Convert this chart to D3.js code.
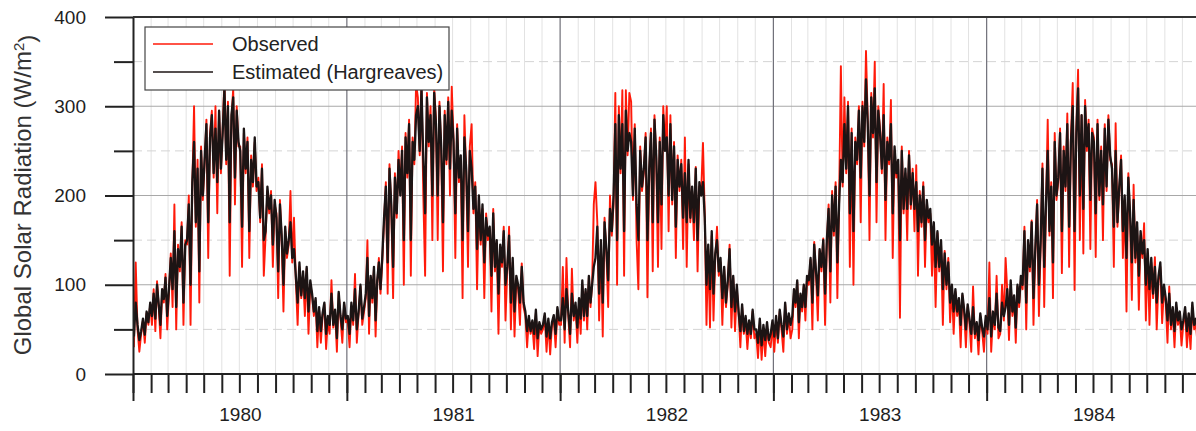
<!DOCTYPE html>
<html>
<head>
<meta charset="utf-8">
<script src="https://cdn.jsdelivr.net/npm/d3@7"></script>
<style>
  body { margin: 0; background: #fff; }
  svg { display: block; font-family: "Liberation Sans", Arial, Helvetica, sans-serif; }
</style>
</head>
<body>
<svg id="chart"></svg>
<script>
// axis values
const years = [1980, 1981, 1982, 1983, 1984];
const yTickLabels = [0, 100, 200, 300, 400];
const yMinorTicks = [50, 150, 250, 350];
const seriesNames = ['Observed', 'Estimated (Hargreaves)'];

// global solar radiation, W/m2, 10 readings per month (Jan..Dec)
const obs1980 = [
  30, 125, 50, 25, 45, 60, 35, 68, 55, 78,
  55, 95, 48, 104, 75, 40, 92, 80, 112, 50,
  90, 135, 75, 190, 50, 145, 115, 170, 55, 150,
  145, 200, 55, 210, 300, 165, 240, 80, 255, 195,
  235, 285, 130, 270, 295, 220, 300, 180, 295, 225,
  275, 330, 235, 305, 110, 285, 320, 190, 300, 255,
  255, 120, 270, 225, 265, 130, 245, 210, 260, 205,
  220, 170, 235, 110, 155, 205, 180, 205, 120, 190,
  180, 85, 195, 150, 70, 160, 130, 145, 205, 125,
  175, 105, 55, 120, 85, 110, 65, 118, 45, 100,
  88, 65, 82, 30, 72, 35, 65, 78, 28, 60,
  45, 105, 52, 70, 25, 90, 62, 35, 78, 58
];
const est1980 = [
  42, 80, 55, 38, 48, 62, 44, 70, 58, 80,
  65, 90, 62, 100, 78, 55, 95, 84, 108, 65,
  95, 130, 95, 160, 75, 140, 120, 165, 80, 145,
  150, 190, 100, 215, 260, 170, 230, 115, 250, 200,
  240, 280, 170, 265, 290, 225, 275, 215, 295, 230,
  270, 320, 240, 300, 170, 290, 310, 220, 295, 260,
  250, 165, 275, 230, 260, 160, 240, 215, 265, 210,
  215, 175, 230, 150, 160, 210, 185, 200, 145, 195,
  175, 115, 190, 155, 100, 165, 135, 150, 170, 130,
  140, 110, 80, 125, 88, 115, 85, 120, 70, 105,
  90, 70, 85, 48, 75, 48, 68, 80, 45, 65,
  55, 90, 55, 72, 40, 92, 65, 50, 80, 62
];
const obs1981 = [
  60, 30, 75, 55, 112, 35, 68, 98, 55, 70,
  85, 150, 45, 108, 80, 118, 42, 100, 130, 90,
  125, 170, 215, 90, 235, 185, 85, 225, 175, 250,
  205, 255, 100, 270, 220, 285, 110, 265, 235, 325,
  310, 245, 330, 200, 110, 315, 255, 300, 150, 320,
  285, 150, 305, 250, 115, 295, 235, 310, 200, 322,
  265, 130, 280, 215, 240, 85, 290, 225, 120, 255,
  280, 180, 215, 95, 195, 145, 185, 85, 180, 150,
  160, 70, 185, 115, 145, 45, 140, 120, 165, 60,
  115, 165, 50, 125, 42, 105, 95, 55, 124, 75,
  65, 30, 62, 45, 55, 28, 68, 20, 55, 45,
  50, 65, 25, 58, 22, 55, 62, 30, 70, 55
];
const est1981 = [
  65, 45, 80, 60, 95, 50, 70, 100, 62, 75,
  90, 130, 65, 110, 85, 120, 60, 105, 125, 95,
  130, 175, 210, 125, 230, 190, 120, 220, 180, 240,
  200, 250, 150, 265, 225, 280, 150, 260, 240, 290,
  300, 250, 320, 240, 180, 310, 260, 290, 200, 315,
  280, 200, 300, 255, 170, 290, 240, 305, 230, 295,
  260, 180, 275, 220, 245, 150, 265, 230, 160, 250,
  230, 185, 210, 140, 200, 150, 190, 125, 175, 155,
  165, 110, 180, 120, 150, 90, 145, 125, 160, 100,
  120, 155, 80, 130, 70, 110, 100, 80, 120, 80,
  70, 48, 65, 48, 60, 45, 72, 40, 58, 50,
  55, 68, 42, 62, 40, 58, 66, 45, 75, 60
];
const obs1982 = [
  55, 120, 35, 130, 65, 30, 118, 60, 75, 35,
  80, 45, 100, 60, 92, 50, 108, 75, 102, 190,
  215, 170, 60, 145, 42, 175, 135, 75, 200, 155,
  190, 315, 100, 300, 225, 318, 110, 318, 245, 315,
  305, 195, 280, 150, 95, 255, 205, 225, 270, 86,
  225, 275, 115, 290, 240, 120, 265, 140, 300, 255,
  300, 160, 290, 190, 260, 130, 245, 205, 240, 140,
  265, 120, 235, 170, 205, 150, 232, 115, 210, 205,
  259, 180, 55, 140, 52, 155, 60, 130, 165, 110,
  125, 55, 118, 75, 100, 145, 52, 108, 48, 95,
  68, 30, 75, 45, 60, 28, 55, 40, 70, 40,
  45, 18, 55, 16, 50, 20, 52, 35, 30, 55
];
const est1982 = [
  60, 85, 50, 95, 70, 45, 90, 65, 80, 52,
  85, 62, 105, 65, 95, 65, 110, 80, 100, 120,
  130, 165, 90, 150, 80, 170, 140, 105, 185, 160,
  200, 280, 150, 290, 230, 280, 160, 295, 250, 270,
  260, 200, 275, 190, 150, 250, 210, 230, 265, 150,
  230, 270, 170, 285, 245, 170, 260, 190, 290, 250,
  265, 200, 280, 195, 255, 165, 240, 210, 235, 175,
  225, 170, 240, 175, 210, 170, 230, 150, 215, 200,
  215, 175, 100, 145, 95, 160, 90, 135, 150, 115,
  130, 85, 120, 80, 105, 140, 75, 110, 70, 100,
  70, 48, 78, 48, 65, 45, 60, 45, 72, 50,
  50, 35, 62, 32, 55, 38, 58, 38, 45, 60
];
const obs1983 = [
  25, 60, 35, 70, 50, 25, 78, 45, 65, 40,
  50, 92, 75, 103, 40, 88, 70, 98, 60, 108,
  100, 128, 50, 148, 110, 60, 138, 115, 152, 55,
  145, 190, 80, 205, 155, 215, 85, 195, 345, 210,
  310, 225, 305, 120, 275, 100, 265, 235, 300, 170,
  305, 255, 362, 285, 150, 315, 265, 350, 170, 300,
  275, 225, 325, 150, 265, 235, 307, 130, 250, 220,
  235, 63, 255, 180, 225, 150, 250, 185, 230, 160,
  234, 110, 205, 165, 215, 120, 190, 170, 180, 110,
  165, 75, 158, 115, 145, 55, 138, 95, 130, 58,
  98, 45, 92, 65, 80, 30, 88, 68, 30, 75,
  58, 25, 98, 40, 55, 22, 65, 48, 25, 60
];
const est1983 = [
  42, 65, 40, 72, 55, 42, 80, 50, 68, 55,
  65, 95, 80, 105, 58, 90, 75, 100, 75, 110,
  105, 130, 80, 145, 115, 88, 140, 120, 150, 90,
  150, 185, 115, 200, 160, 210, 125, 190, 240, 215,
  280, 230, 300, 180, 270, 160, 260, 240, 295, 220,
  300, 260, 330, 280, 200, 310, 270, 320, 215, 295,
  270, 230, 290, 195, 260, 240, 280, 180, 255, 225,
  240, 150, 250, 185, 230, 185, 245, 190, 225, 185,
  215, 160, 200, 170, 210, 150, 195, 175, 185, 145,
  170, 120, 160, 120, 150, 95, 135, 100, 125, 80,
  100, 70, 95, 70, 85, 55, 90, 72, 50, 78,
  62, 45, 75, 45, 58, 38, 68, 52, 42, 65
];
const obs1984 = [
  45, 125, 25, 65, 50, 110, 40, 45, 100, 60,
  130, 92, 38, 100, 65, 85, 35, 98, 75, 105,
  95, 165, 50, 148, 115, 172, 55, 135, 195, 65,
  145, 236, 75, 185, 285, 155, 215, 85, 270, 195,
  215, 275, 113, 255, 205, 292, 120, 265, 326, 94,
  275, 341, 150, 290, 135, 307, 250, 285, 140, 275,
  265, 131, 285, 195, 255, 150, 280, 205, 290, 240,
  235, 120, 281, 165, 205, 245, 130, 195, 70, 225,
  175, 83, 212, 125, 165, 72, 155, 130, 169, 60,
  135, 55, 125, 85, 131, 50, 105, 120, 57, 95,
  80, 35, 98, 50, 70, 30, 75, 55, 65, 32,
  55, 70, 30, 60, 28, 75, 50, 55, 30, 65
];
const est1984 = [
  50, 85, 42, 70, 55, 90, 52, 48, 80, 65,
  75, 95, 55, 105, 70, 88, 52, 100, 80, 110,
  100, 160, 80, 150, 120, 170, 85, 140, 190, 100,
  150, 230, 120, 190, 250, 160, 210, 125, 260, 200,
  220, 270, 160, 250, 210, 280, 165, 260, 300, 160,
  270, 320, 200, 290, 185, 300, 255, 280, 195, 270,
  260, 180, 280, 200, 250, 190, 275, 210, 285, 245,
  230, 165, 250, 170, 210, 240, 160, 200, 130, 220,
  180, 125, 195, 130, 170, 110, 160, 135, 150, 100,
  140, 95, 130, 90, 120, 80, 110, 125, 80, 100,
  85, 60, 90, 55, 75, 48, 80, 60, 70, 50,
  60, 75, 48, 68, 45, 80, 55, 62, 48, 70
];

const observed = [obs1980, obs1981, obs1982, obs1983, obs1984];
const estimated = [est1980, est1981, est1982, est1983, est1984];

class RadiationChart {

  constructor(_config, _data) {
    this.config = {
      parentElement: _config.parentElement,
      containerWidth: _config.containerWidth || 1196,
      containerHeight: _config.containerHeight || 431,
      margin: _config.margin || {top: 17, left: 133},
      plotWidth: _config.plotWidth || 1067.5,
      plotHeight: _config.plotHeight || 357
    }
    this.data = _data;
    this.initVis();
  }

  initVis() {
    let vis = this;

    vis.svg = d3.select(vis.config.parentElement)
        .attr('width', vis.config.containerWidth)
        .attr('height', vis.config.containerHeight);

    vis.width = vis.config.plotWidth;
    vis.height = vis.config.plotHeight;

    vis.chartArea = vis.svg.append('g')
        .attr('transform', `translate(${vis.config.margin.left},${vis.config.margin.top})`);

    vis.svg.append('defs').append('clipPath')
        .attr('id', 'plot-clip')
      .append('rect')
        .attr('x', 0)
        .attr('y', -2)
        .attr('width', vis.config.containerWidth - vis.config.margin.left)
        .attr('height', vis.height + 4);

    vis.xScale = d3.scaleTime()
        .domain([new Date(years[0], 0, 1), new Date(years[years.length - 1] + 1, 0, 1)])
        .range([0, vis.width]);

    vis.yScale = d3.scaleLinear()
        .domain([0, 400])
        .range([vis.height, 0]);

    vis.gridG = vis.chartArea.append('g').attr('class', 'grid');
    vis.linesG = vis.chartArea.append('g').attr('clip-path', 'url(#plot-clip)');
    vis.axesG = vis.chartArea.append('g').attr('class', 'axes');
    vis.legendG = vis.chartArea.append('g').attr('class', 'legend');

    vis.updateVis();
  }

  updateVis() {
    let vis = this;

    // flatten the monthly readings into dated points
    vis.series = vis.data.map(s => {
      const points = [];
      s.values.forEach((yearValues, yi) => {
        yearValues.forEach((v, i) => {
          const m = Math.floor(i / 10);
          const k = i % 10;
          const start = new Date(years[yi], m, 1);
          const end = new Date(years[yi], m + 1, 1);
          points.push({date: new Date(+start + (k + 0.5) / 10 * (end - start)), value: v});
        });
      });
      return {name: s.name, color: s.color, width: s.width, points: points};
    });

    vis.months = d3.timeMonth.range(vis.xScale.domain()[0], vis.xScale.domain()[1]);
    vis.yearStarts = years.map(y => new Date(y, 0, 1));
    vis.yearMids = years.map(y => new Date(y, 6, 2));

    vis.line = d3.line()
        .x(d => vis.xScale(d.date))
        .y(d => vis.yScale(d.value));

    vis.renderVis();
  }

  renderVis() {
    let vis = this;
    const clipW = vis.config.containerWidth - vis.config.margin.left;

    // grid
    vis.gridG.selectAll('.month-grid')
        .data(vis.months.filter(d => d.getMonth() !== 0))
        .join('line')
        .attr('class', 'month-grid')
        .attr('x1', d => vis.xScale(d))
        .attr('x2', d => vis.xScale(d))
        .attr('y1', 0)
        .attr('y2', vis.height)
        .attr('stroke', '#e2e2e2')
        .attr('stroke-width', 1);

    vis.gridG.selectAll('.minor-grid')
        .data(yMinorTicks)
        .join('line')
        .attr('class', 'minor-grid')
        .attr('x1', 0)
        .attr('x2', clipW)
        .attr('y1', d => vis.yScale(d))
        .attr('y2', d => vis.yScale(d))
        .attr('stroke', '#d4d4d4')
        .attr('stroke-dasharray', '9,5')
        .attr('stroke-width', 1);

    vis.gridG.selectAll('.major-grid')
        .data(yTickLabels.filter(d => d > 0 && d < 400))
        .join('line')
        .attr('class', 'major-grid')
        .attr('x1', 0)
        .attr('x2', clipW)
        .attr('y1', d => vis.yScale(d))
        .attr('y2', d => vis.yScale(d))
        .attr('stroke', '#a8a8a8')
        .attr('stroke-width', 1.2);

    vis.gridG.selectAll('.year-grid')
        .data(vis.yearStarts.slice(1))
        .join('line')
        .attr('class', 'year-grid')
        .attr('x1', d => vis.xScale(d))
        .attr('x2', d => vis.xScale(d))
        .attr('y1', 0)
        .attr('y2', vis.height)
        .attr('stroke', '#6f6f78')
        .attr('stroke-width', 1.2);

    // series, observed first so the estimate sits on top
    vis.linesG.selectAll('.series')
        .data(vis.series)
        .join('path')
        .attr('class', 'series')
        .attr('d', d => vis.line(d.points))
        .attr('fill', 'none')
        .attr('stroke', d => d.color)
        .attr('stroke-width', d => d.width)
        .attr('stroke-linejoin', 'round');

    // axes
    const monthAxis = d3.axisBottom(vis.xScale)
        .tickValues(vis.months)
        .tickSize(19)
        .tickSizeOuter(0)
        .tickFormat('');
    const yearAxis = d3.axisBottom(vis.xScale)
        .tickValues(vis.yearStarts)
        .tickSize(27)
        .tickSizeOuter(0)
        .tickFormat('');
    const yearLabels = d3.axisBottom(vis.xScale)
        .tickValues(vis.yearMids)
        .tickSize(0)
        .tickPadding(34)
        .tickFormat(d3.timeFormat('%Y'));
    const yAxis = d3.axisLeft(vis.yScale)
        .tickValues(yTickLabels)
        .tickSize(28)
        .tickSizeOuter(0)
        .tickPadding(19);
    const yMinor = d3.axisLeft(vis.yScale)
        .tickValues(yMinorTicks)
        .tickSize(19)
        .tickSizeOuter(0)
        .tickFormat('');

    const style = g => {
      g.attr('font-family', null).attr('font-size', null);
      g.selectAll('line').attr('stroke', '#222').attr('stroke-width', 2);
      g.selectAll('.domain').attr('stroke', '#222').attr('stroke-width', 2);
      g.selectAll('text').attr('fill', '#1e1e1e').style('font-size', '19px');
    };

    vis.axesG.append('g')
        .attr('transform', `translate(0,${vis.height})`)
        .call(monthAxis)
        .call(style)
        .call(g => g.select('.domain').attr('d', `M0,0H${clipW}`));
    vis.axesG.append('g')
        .attr('transform', `translate(0,${vis.height})`)
        .call(yearAxis)
        .call(style)
        .call(g => g.select('.domain').remove());
    vis.axesG.append('g')
        .attr('transform', `translate(0,${vis.height})`)
        .call(yearLabels)
        .call(style)
        .call(g => g.select('.domain').remove());
    vis.axesG.append('g')
        .call(yMinor)
        .call(style)
        .call(g => g.select('.domain').remove());
    vis.axesG.append('g')
        .call(yAxis)
        .call(style);

    // top frame
    vis.axesG.append('line')
        .attr('x1', 0)
        .attr('x2', clipW)
        .attr('y1', 0)
        .attr('y2', 0)
        .attr('stroke', '#333')
        .attr('stroke-width', 2);

    // y title
    const title = vis.axesG.append('text')
        .attr('transform', `translate(${31 - vis.config.margin.left},${195 - vis.config.margin.top}) rotate(-90)`)
        .attr('text-anchor', 'middle')
        .attr('fill', '#333')
        .style('font-size', '24px');
    title.append('tspan').text('Global Solar Radiation (W/m');
    title.append('tspan').attr('dy', '-0.45em').style('font-size', '15px').text('2');
    title.append('tspan').attr('dy', '0.45em').text(')');

    // legend
    vis.legendG.append('rect')
        .attr('x', 12)
        .attr('y', 10)
        .attr('width', 304)
        .attr('height', 63)
        .attr('fill', '#fff')
        .attr('stroke', '#444')
        .attr('stroke-width', 1.2);

    const items = vis.legendG.selectAll('.legend-item')
        .data(vis.series)
        .join('g')
        .attr('class', 'legend-item')
        .attr('transform', (d, i) => `translate(20,${27 + i * 28})`);
    items.append('line')
        .attr('x1', 0)
        .attr('x2', 60)
        .attr('stroke', d => d.color)
        .attr('stroke-width', 1.6);
    items.append('text')
        .attr('x', 79)
        .attr('dy', '0.36em')
        .attr('fill', '#222')
        .style('font-size', '20px')
        .text(d => d.name);
  }
}

const chartData = [
  {name: seriesNames[0], color: '#ff1a0a', width: 1.9, values: observed},
  {name: seriesNames[1], color: '#1c1414', width: 2.3, values: estimated}
];

new RadiationChart({parentElement: '#chart'}, chartData);
</script>
</body>
</html>
